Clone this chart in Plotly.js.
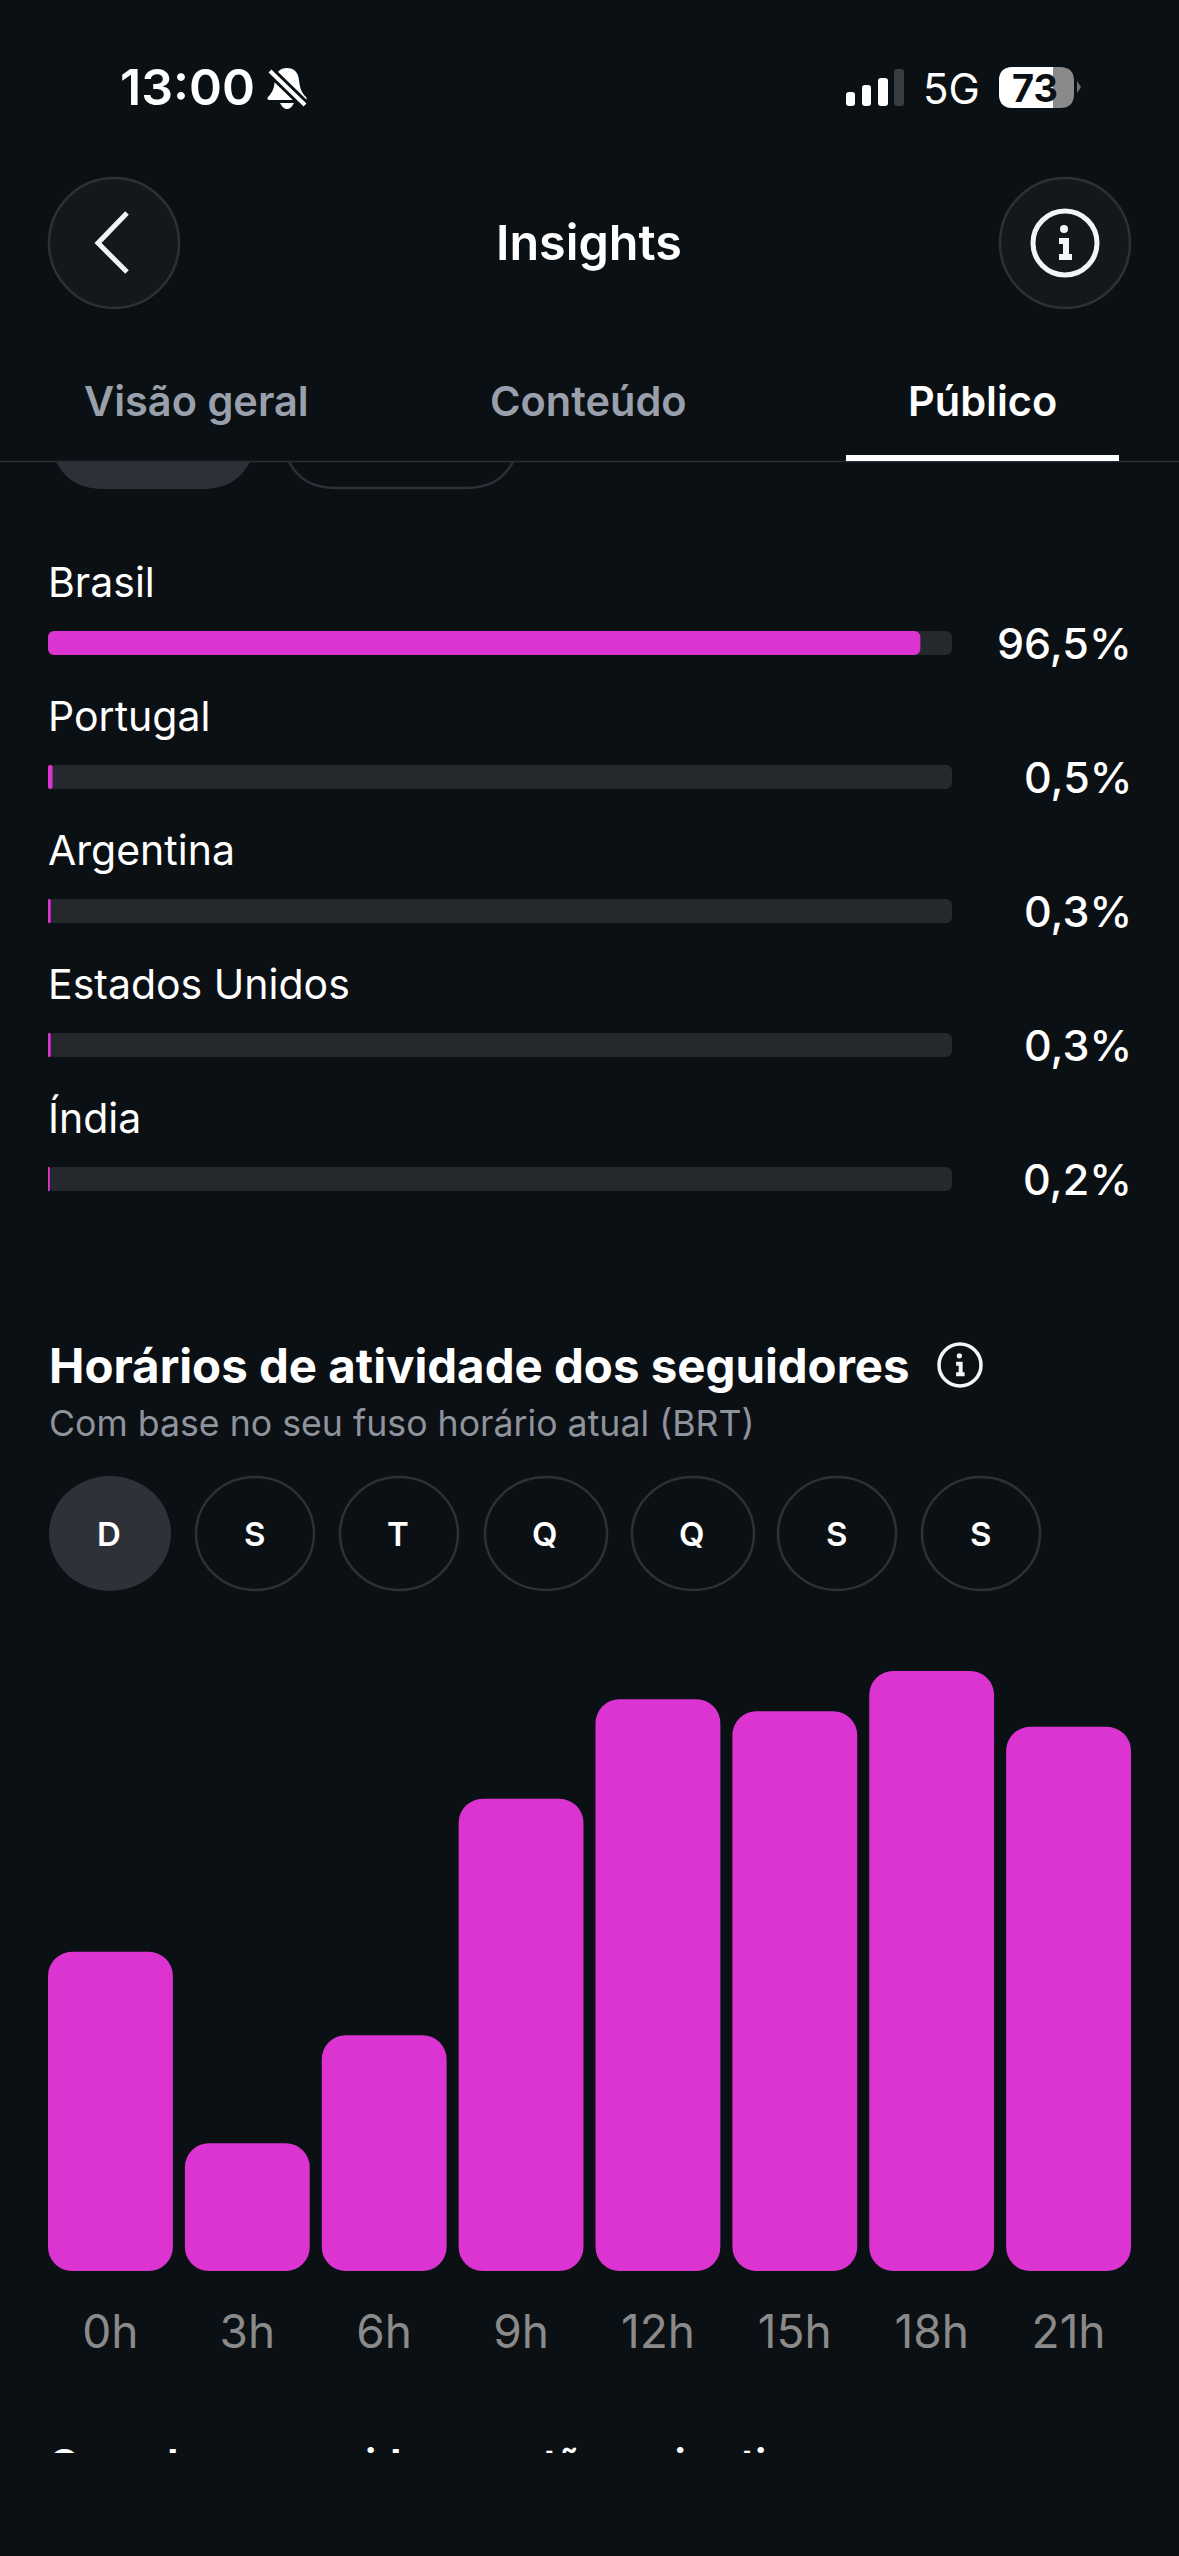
<!DOCTYPE html>
<html>
<head>
<meta charset="utf-8">
<script src="https://cdn.plot.ly/plotly-3.0.1.min.js"></script>
<style>
  html, body { margin: 0; padding: 0; background: #0b1014; }
  #chart { position: absolute; left: 0; top: 0; width: 1179px; height: 2556px; }
  /* the next section is cut off by the scroll area */
  #fold { position: absolute; left: 0; top: 2453px; width: 1179px; height: 103px; background: #0b1014; }
</style>
</head>
<body>
<div id="chart"></div>
<div id="fold"></div>
<script>
'use strict';
/* Audience by country */
var countries = ['Brasil', 'Portugal', 'Argentina', 'Estados Unidos', 'Índia'];
var country_share = [96.5, 0.5, 0.3, 0.3, 0.2];
var country_labels = ['96,5%', '0,5%', '0,3%', '0,3%', '0,2%'];
var share_max = [100, 100, 100, 100, 100];

/* Follower activity by hour, sunday, relative to the busiest slot */
var hours = ['0h', '3h', '6h', '9h', '12h', '15h', '18h', '21h'];
var activity = [53.2, 21.3, 39.3, 78.7, 95.3, 93.3, 100, 90.7];

/* Page text */
var tabs = ['Visão geral', 'Conteúdo', 'Público'];
var days = ['D', 'S', 'T', 'Q', 'Q', 'S', 'S'];

var W = 1179, H = 2556;
var BG = '#0b1014';
var PINK = '#dc34d0';
var TRACK = '#25282d';
var FONT = 'Inter, sans-serif';

function yDomain(top, bottom) { return [1 - bottom / H, 1 - top / H]; }
function zeros(a) { return a.map(function () { return 0; }); }

/* giving a bar an explicit base makes plotly round both of its ends */
var track_bars = {
  type: 'bar', orientation: 'h', x: share_max, y: countries, base: zeros(countries), width: 0.179,
  marker: { color: TRACK, cornerradius: 6 }, hoverinfo: 'skip', xaxis: 'x', yaxis: 'y'
};
var share_bars = {
  type: 'bar', orientation: 'h', x: country_share, y: countries, base: zeros(countries), width: 0.179,
  marker: { color: PINK, cornerradius: 6 }, hoverinfo: 'skip', xaxis: 'x', yaxis: 'y'
};
var hour_bars = {
  type: 'bar', x: hours, y: activity, base: zeros(hours), width: 0.912,
  marker: { color: PINK, cornerradius: 24 }, hoverinfo: 'skip', xaxis: 'x2', yaxis: 'y2'
};

/* Shapes and labels are placed in screen pixels through a hidden third axis pair */
function shape(o) { return Object.assign({ xref: 'x3', yref: 'y3', line: { width: 0 } }, o); }
function circle(cx, cy, rx, ry, fill, stroke, lw) {
  return shape({
    type: 'circle', x0: cx - rx, x1: cx + rx, y0: cy - ry, y1: cy + ry,
    fillcolor: fill, line: { color: stroke, width: lw }
  });
}
function path(d, fill, stroke, lw) {
  return shape({ type: 'path', path: d, fillcolor: fill || 'rgba(0,0,0,0)', line: { color: stroke || 'rgba(0,0,0,0)', width: lw || 0 } });
}
function roundRect(x0, y0, x1, y1, r) {
  return 'M' + (x0 + r) + ',' + y0 + ' L' + (x1 - r) + ',' + y0 + ' Q' + x1 + ',' + y0 + ' ' + x1 + ',' + (y0 + r) +
    ' L' + x1 + ',' + (y1 - r) + ' Q' + x1 + ',' + y1 + ' ' + (x1 - r) + ',' + y1 +
    ' L' + (x0 + r) + ',' + y1 + ' Q' + x0 + ',' + y1 + ' ' + x0 + ',' + (y1 - r) +
    ' L' + x0 + ',' + (y0 + r) + ' Q' + x0 + ',' + y0 + ' ' + (x0 + r) + ',' + y0 + ' Z';
}
function label(text, x, y, size, color, weight, anchor) {
  return {
    xref: 'x3', yref: 'y3', x: x, y: y, text: text, showarrow: false,
    xanchor: anchor || 'left', yanchor: 'middle', borderpad: 0,
    font: { family: FONT, size: size, color: color, weight: weight || 400 }
  };
}
function infoIcon(cx, cy, r, lw) {
  var k = r / 32;
  return [
    circle(cx, cy, r, r, 'rgba(0,0,0,0)', '#f3f5f7', lw),
    circle(cx - 1 * k, cy - 14 * k, 4 * k, 4 * k, '#f3f5f7', '#f3f5f7', 0),
    path('M' + (cx - 6 * k) + ',' + (cy - 2 * k) + ' L' + (cx + 1 * k) + ',' + (cy - 2 * k) + ' L' + (cx + 1 * k) + ',' + (cy + 14 * k) +
      ' M' + (cx - 6 * k) + ',' + (cy + 14 * k) + ' L' + (cx + 7 * k) + ',' + (cy + 14 * k), null, '#f3f5f7', Math.max(3, 6 * k))
  ];
}

var shapes = [
  /* cut off filter pills under the tab bar */
  path('M56,462 C66,480 80,489 104,489 L202,489 C226,489 240,480 250,462 Z', '#2d3137'),
  path('M289,462 C299,480 313,488 337,488 L465,488 C489,488 503,480 513,462', null, '#2d3137', 2.5),
  /* tab bar */
  shape({ type: 'line', x0: 0, x1: W, y0: 461.5, y1: 461.5, line: { color: '#2a2d31', width: 1.5 } }),
  shape({ type: 'rect', x0: 846, x1: 1119, y0: 455, y1: 461, fillcolor: '#ffffff' }),
  /* nav buttons */
  circle(114, 243, 65, 65, '#14181b', '#2b3136', 2.5),
  circle(1065, 243, 65, 65, '#14181b', '#2b3136', 2.5),
  path('M127,213 L98,243 L127,272', null, '#f3f5f7', 5),
  /* status bar: bell */
  path('M287,68 C294,68 298,72 299,80 C300,88 301,92 306,97 Q308,100 304,100 L270,100 Q266,100 268,97 C273,92 274,88 275,80 C276,72 280,68 287,68 Z', '#ffffff'),
  path('M280,103 L294,103 Q291,109 287,109 Q283,109 280,103 Z', '#ffffff'),
  path('M268,69 L307,107', null, BG, 10),
  path('M270,71 L305,105', null, '#ffffff', 4),
  /* status bar: signal */
  path(roundRect(846, 92, 855, 106, 3), '#ffffff'),
  path(roundRect(862, 85, 871, 106, 3), '#ffffff'),
  path(roundRect(878, 78, 888, 106, 3), '#ffffff'),
  path(roundRect(894, 69, 904, 106, 3), '#3a3d40'),
  /* status bar: battery */
  path(roundRect(999, 67, 1074, 108, 14), '#8a8a8a'),
  path('M1013,67 L1053,67 L1053,108 L1013,108 Q999,108 999,94 L999,81 Q999,67 1013,67 Z', '#ffffff'),
  path('M1077,81 L1081,87 L1077,93 Z', '#6f7072')
].concat(infoIcon(1065, 243, 32, 5), infoIcon(960, 1365, 21, 3.5));

var day_x = [110, 255, 399, 546, 693, 837, 981];
var day_rx = [61, 59, 59, 61, 61, 59, 59];
days.forEach(function (d, i) {
  if (i === 0) shapes.push(circle(day_x[i], 1533.5, day_rx[i], 57.5, '#2e3238', '#2e3238', 0));
  else shapes.push(circle(day_x[i], 1533.5, day_rx[i], 56.5, 'rgba(0,0,0,0)', '#2d3035', 2.5));
});

var annotations = [
  label('13:00', 119, 87, 50, '#ffffff', 600),
  label('5G', 922, 88, 42, '#ffffff', 400),
  label('73', 1035, 88, 38, '#0b1014', 700, 'center'),
  label('Insights', 589, 242, 48.5, '#ffffff', 600, 'center'),
  label(tabs[0], 196, 401, 41.5, '#9aa0ab', 600, 'center'),
  label(tabs[1], 588, 401, 41.5, '#9aa0ab', 600, 'center'),
  label(tabs[2], 982, 401, 41.5, '#ffffff', 600, 'center'),
  label('Horários de atividade dos seguidores', 48, 1365, 47.4, '#ffffff', 700),
  label('Com base no seu fuso horário atual (BRT)', 48, 1423, 35.7, '#8f939c', 400),
  label('Quando os seguidores estão mais ativos', 48, 2463, 40, '#ffffff', 700)
];
countries.forEach(function (c, i) {
  annotations.push(label(c, 47, 582 + 134 * i, 41, '#ffffff', 400));
  annotations.push(label(country_labels[i], 1133, 643 + 134 * i, 43, '#ffffff', 500, 'right'));
});
days.forEach(function (d, i) {
  annotations.push(label(d, day_x[i] - 1, 1534, 33, '#ffffff', 600, 'center'));
});

var layout = {
  width: W,
  height: H,
  margin: { l: 0, r: 0, t: 0, b: 0 },
  paper_bgcolor: BG,
  plot_bgcolor: 'rgba(0,0,0,0)',
  barmode: 'overlay',
  showlegend: false,
  font: { family: FONT },
  xaxis: { domain: [48 / W, 952 / W], range: [0, 100], visible: false, anchor: 'y' },
  yaxis: { domain: yDomain(576, 1246), categoryorder: 'array', categoryarray: countries, autorange: 'reversed', visible: false, anchor: 'x' },
  xaxis2: {
    domain: [42 / W, 1137 / W], type: 'category', range: [-0.5, 7.5], anchor: 'y2',
    showgrid: false, zeroline: false, showline: false,
    ticks: 'outside', ticklen: 21, tickcolor: 'rgba(0,0,0,0)',
    tickfont: { family: FONT, size: 46, color: '#8a8a8a' }
  },
  yaxis2: { domain: yDomain(1671, 2271), range: [0, 100], visible: false, anchor: 'x2' },
  xaxis3: { domain: [0, 1], range: [0, W], visible: false, anchor: 'y3' },
  yaxis3: { domain: [0, 1], range: [H, 0], visible: false, anchor: 'x3' },
  shapes: shapes,
  annotations: annotations
};

Plotly.newPlot('chart', [track_bars, share_bars, hour_bars], layout, { displayModeBar: false, staticPlot: true });
</script>
</body>
</html>
